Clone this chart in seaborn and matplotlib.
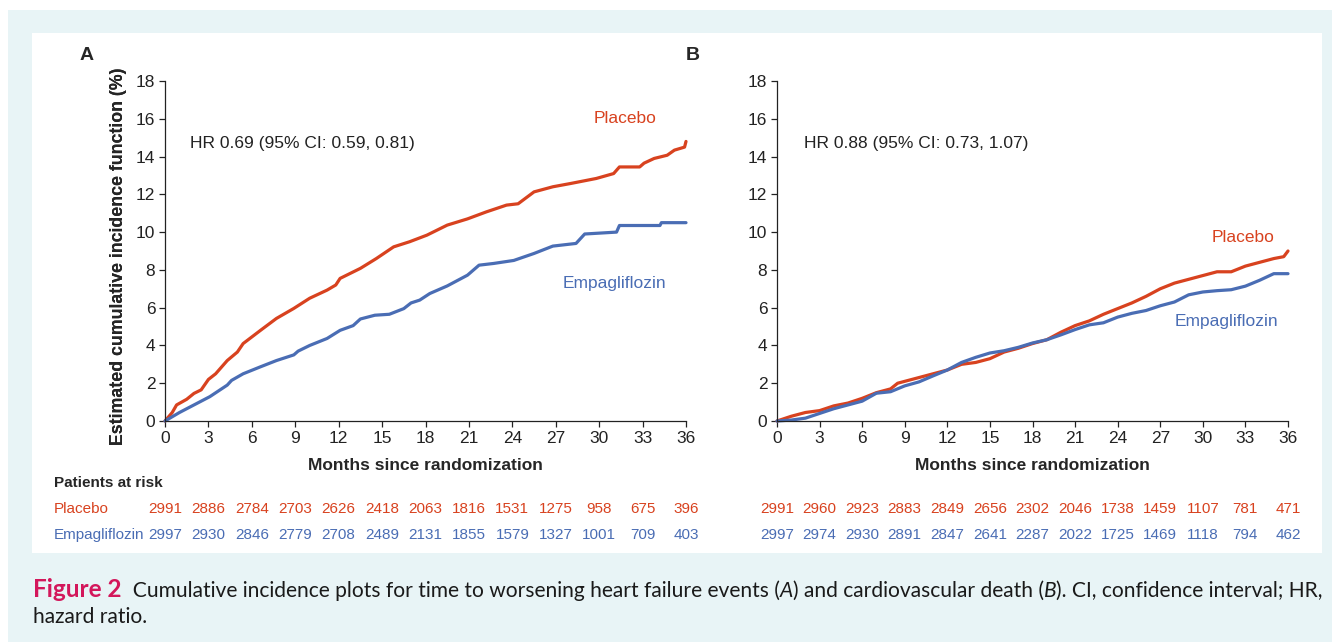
import pandas as pd
import seaborn as sns
import matplotlib.pyplot as plt
from matplotlib.patches import Rectangle
from matplotlib.transforms import blended_transform_factory

# -----------------------------------------------------------------------------
# Data
# -----------------------------------------------------------------------------
MONTH_TICKS = list(range(0, 37, 3))

# Panel A: worsening heart failure events
hf_placebo_months = [0, 0.5, 0.8, 1.5, 2, 2.5, 3, 3.5, 4.3, 5, 5.4, 6, 6.6, 7.7, 8.9, 10,
                     11.2, 11.8, 12.1, 13.5, 14.6, 15.8, 16.9, 18.1, 19.5, 20.9, 22.2,
                     23.6, 24.4, 25.5, 26.8, 28, 29.8, 31, 31.4, 32.8, 33.1, 33.8, 34.7,
                     35.2, 35.9, 36]
hf_placebo_cif = [0, 0.45, 0.85, 1.15, 1.46, 1.65, 2.2, 2.5, 3.2, 3.65, 4.1, 4.45, 4.8,
                  5.43, 5.96, 6.5, 6.93, 7.2, 7.55, 8.08, 8.6, 9.22, 9.49, 9.84, 10.37,
                  10.7, 11.07, 11.43, 11.5, 12.13, 12.4, 12.57, 12.84, 13.1, 13.45, 13.45,
                  13.65, 13.9, 14.07, 14.34, 14.5, 14.8]

hf_empa_months = [0, 1, 2, 3.1, 4.3, 4.6, 5.4, 6.6, 7.7, 8.9, 9.2, 10, 11.2, 12.1, 13,
                  13.5, 14.5, 15.5, 16.5, 17, 17.6, 18.3, 19.5, 20.9, 21.7, 22.7, 24.1,
                  25.5, 26.8, 28.4, 29, 31.2, 31.4, 34.2, 34.3, 36]
hf_empa_cif = [0, 0.45, 0.85, 1.29, 1.9, 2.15, 2.5, 2.87, 3.2, 3.5, 3.7, 4.0, 4.37, 4.8,
               5.05, 5.4, 5.6, 5.65, 5.95, 6.25, 6.4, 6.75, 7.15, 7.72, 8.25, 8.34, 8.5,
               8.87, 9.26, 9.4, 9.9, 10.0, 10.35, 10.35, 10.5, 10.5]

# Panel B: cardiovascular death
cv_placebo_months = [0, 1, 2, 3, 4, 5, 6, 7, 8, 8.5, 9, 10, 11, 12, 13, 14, 15, 16, 17,
                     18, 19, 20, 21, 22, 23, 24, 25, 26, 27, 28, 29, 30, 31, 32, 33, 34,
                     35, 35.7, 36]
cv_placebo_cif = [0, 0.25, 0.45, 0.55, 0.8, 0.95, 1.2, 1.5, 1.7, 2.0, 2.1, 2.3, 2.5, 2.7,
                  3.0, 3.1, 3.3, 3.65, 3.85, 4.1, 4.3, 4.7, 5.05, 5.3, 5.65, 5.95, 6.25,
                  6.6, 7.0, 7.3, 7.5, 7.7, 7.9, 7.9, 8.2, 8.4, 8.6, 8.7, 9.0]

cv_empa_months = [0, 1, 2, 3, 4, 5, 6, 7, 8, 9, 10, 11, 12, 13, 14, 15, 16, 17, 18, 19,
                  20, 21, 22, 23, 24, 25, 26, 27, 28, 29, 30, 31, 32, 33, 34, 35, 36]
cv_empa_cif = [0, 0.05, 0.15, 0.4, 0.65, 0.85, 1.05, 1.47, 1.55, 1.86, 2.07, 2.39, 2.7,
               3.1, 3.37, 3.6, 3.72, 3.9, 4.13, 4.3, 4.56, 4.84, 5.09, 5.2, 5.5, 5.7,
               5.85, 6.1, 6.3, 6.68, 6.83, 6.9, 6.95, 7.14, 7.45, 7.8, 7.8]

# Patients at risk, at 0, 3, ..., 36 months
risk_hf_placebo = [2991, 2886, 2784, 2703, 2626, 2418, 2063, 1816, 1531, 1275, 958, 675, 396]
risk_hf_empa = [2997, 2930, 2846, 2779, 2708, 2489, 2131, 1855, 1579, 1327, 1001, 709, 403]
risk_cv_placebo = [2991, 2960, 2923, 2883, 2849, 2656, 2302, 2046, 1738, 1459, 1107, 781, 471]
risk_cv_empa = [2997, 2974, 2930, 2891, 2847, 2641, 2287, 2022, 1725, 1469, 1118, 794, 462]

ARMS = ["Placebo", "Empagliflozin"]
PALETTE = {"Placebo": "#d8421f", "Empagliflozin": "#4a6db4"}

# -----------------------------------------------------------------------------
# Figure setup (pixel helpers for a 1332x642 canvas)
# -----------------------------------------------------------------------------
W, H = 1332, 642
sns.set_style("ticks")
plt.rcParams["font.family"] = ["Liberation Sans", "DejaVu Sans"]


def fx(px):
    return px / W


def fy(py):
    return 1 - py / H


fig = plt.figure(figsize=(W / 100, H / 100), dpi=100, facecolor="white")
fig.patches.append(Rectangle((fx(8), 0), 1 - fx(8), fy(10), transform=fig.transFigure,
                             facecolor="#e8f4f6", edgecolor="none", zorder=-2))
fig.patches.append(Rectangle((fx(32), fy(553)), fx(1322) - fx(32), fy(33) - fy(553),
                             transform=fig.transFigure, facecolor="white",
                             edgecolor="none", zorder=-1))


def curve_frame(pm, pv, em, ev):
    return pd.concat([
        pd.DataFrame({"month": pm, "cif": pv, "arm": "Placebo"}),
        pd.DataFrame({"month": em, "cif": ev, "arm": "Empagliflozin"}),
    ], ignore_index=True)


def draw_panel(left, right, letter, letter_x, df, hr_text, hr_xy, label_xy, risk,
               show_row_labels):
    ax = fig.add_axes([fx(left), fy(421), fx(right) - fx(left), fy(81) - fy(421)])
    ax.set_facecolor("none")
    sns.lineplot(data=df, x="month", y="cif", hue="arm", hue_order=ARMS,
                 palette=PALETTE, estimator=None, legend=False, linewidth=2.3,
                 ax=ax, clip_on=False)
    ax.set_xlim(0, 36)
    ax.set_ylim(0, 18)
    ax.set_xticks(MONTH_TICKS)
    ax.set_yticks(range(0, 19, 2))
    sns.despine(ax=ax)
    for side in ["left", "bottom"]:
        ax.spines[side].set_linewidth(0.9)
        ax.spines[side].set_color("#222222")
    ax.tick_params(direction="out", length=4.5, width=0.9, pad=2.5,
                   labelsize=12.5, colors="#222222")

    ax.set_xlabel("Months since randomization", fontsize=12.5, fontweight="bold")
    ax.xaxis.set_label_coords(0.5, -0.11)
    ax.set_ylabel("Estimated cumulative incidence function (%)", fontsize=12.8,
                  fontweight="bold")
    ax.yaxis.label.set_va("center")
    ax.yaxis.set_label_coords((119 - left) / (right - left), 0.485)

    fig.text(fx(letter_x), fy(56), letter, fontsize=14, fontweight="bold",
             ha="center", va="center")
    ax.text(hr_xy[0], hr_xy[1], hr_text, fontsize=12.5, va="center", color="#222222")
    for arm in ARMS:
        ax.text(*label_xy[arm], arm, fontsize=12.5, va="center", color=PALETTE[arm])

    # patients-at-risk rows, one number under each tick
    trans = blended_transform_factory(ax.transData, fig.transFigure)
    for arm, row_y in zip(ARMS, [509, 535]):
        for m, n in zip(MONTH_TICKS, risk[arm]):
            ax.text(m, fy(row_y), str(n), transform=trans, ha="center", va="center",
                    fontsize=11, color=PALETTE[arm], clip_on=False)
        if show_row_labels:
            fig.text(fx(54), fy(row_y), arm, fontsize=11, va="center",
                     color=PALETTE[arm])
    if show_row_labels:
        fig.text(fx(54), fy(483), "Patients at risk", fontsize=11, fontweight="bold",
                 va="center")
    return ax


draw_panel(165, 686, "A", 87,
           curve_frame(hf_placebo_months, hf_placebo_cif, hf_empa_months, hf_empa_cif),
           "HR 0.69 (95% CI: 0.59, 0.81)", (1.75, 14.7),
           {"Placebo": (29.6, 16.0), "Empagliflozin": (27.5, 7.3)},
           {"Placebo": risk_hf_placebo, "Empagliflozin": risk_hf_empa}, True)

draw_panel(777, 1288, "B", 693,
           curve_frame(cv_placebo_months, cv_placebo_cif, cv_empa_months, cv_empa_cif),
           "HR 0.88 (95% CI: 0.73, 1.07)", (1.9, 14.7),
           {"Placebo": (30.6, 9.7), "Empagliflozin": (28.0, 5.25)},
           {"Placebo": risk_cv_placebo, "Empagliflozin": risk_cv_empa}, False)

# -----------------------------------------------------------------------------
# Caption (pieces chained left to right so the italics sit inline)
# -----------------------------------------------------------------------------
cap_ax = fig.add_axes([0, 0, 1, 1])
cap_ax.axis("off")
CAP_FONT = ["Lato", "DejaVu Sans"]
CAP_SIZE = 15.1


def caption_line(pieces, x_px, y_px):
    prev = None
    for text, style in pieces:
        kw = dict(fontsize=CAP_SIZE, family=CAP_FONT, color="#1a1a1a", va="bottom",
                  ha="left", annotation_clip=False)
        kw.update(style)
        if prev is None:
            prev = cap_ax.annotate(text, xy=(fx(x_px), fy(y_px)),
                                   xycoords="figure fraction", **kw)
        else:
            prev = cap_ax.annotate(text, xy=(1, 0), xycoords=prev, **kw)


caption_line([
    ("Figure 2", {"color": "#d3175b", "fontweight": "bold", "fontsize": 17.5}),
    ("  Cumulative incidence plots for time to worsening heart failure events (", {}),
    ("A", {"style": "italic"}),
    (") and cardiovascular death (", {}),
    ("B", {"style": "italic"}),
    ("). CI, confidence interval; HR,", {}),
], 33, 601)
caption_line([("hazard ratio.", {})], 33, 627)

fig.savefig("out.png", dpi=100, facecolor=fig.get_facecolor())
